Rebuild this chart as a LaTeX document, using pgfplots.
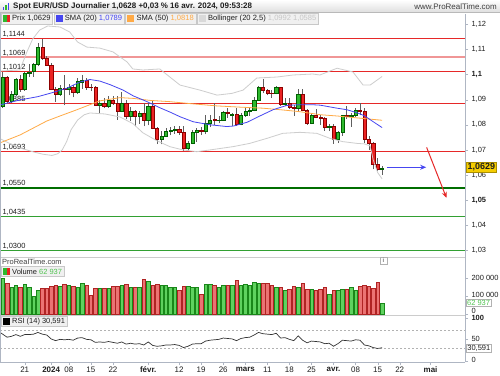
\documentclass[border=0pt]{standalone}
\usepackage{pgfplots}
\pgfplotsset{compat=1.18}
\usepackage{pgfplotstable}
\usepackage{fontspec}
\setmainfont{Liberation Sans}
\usetikzlibrary{arrows.meta}

\definecolor{lvred}{RGB}{230,40,40}
\definecolor{lvpink}{RGB}{240,150,150}
\definecolor{lvdgreen}{RGB}{0,110,0}
\definecolor{lvgreen}{RGB}{50,160,50}
\definecolor{smablue}{RGB}{70,70,240}
\definecolor{smaorange}{RGB}{255,170,70}
\definecolor{bbgray}{RGB}{205,205,205}
\definecolor{cgfill}{RGB}{45,185,45}
\definecolor{cgdraw}{RGB}{0,95,0}
\definecolor{crfill}{RGB}{235,35,35}
\definecolor{crdraw}{RGB}{140,0,0}
\definecolor{wickc}{RGB}{95,95,95}
\definecolor{vgfill}{RGB}{95,210,95}
\definecolor{vgdraw}{RGB}{25,135,25}
\definecolor{vrfill}{RGB}{235,115,115}
\definecolor{vrdraw}{RGB}{175,35,35}
\definecolor{axgray}{RGB}{175,182,195}
\definecolor{txt}{RGB}{30,30,30}
\definecolor{legfill}{RGB}{240,240,240}
\definecolor{legdraw}{RGB}{200,200,200}
\definecolor{pryellow}{RGB}{245,205,0}
\definecolor{volgreen}{RGB}{80,195,80}

\pgfplotstableread{
j o h l c v
-15 1.0873 1.1009 1.0866 1.0990 197
-14 1.0990 1.0995 1.0885 1.0895 169
-13 1.0894 1.0936 1.0887 1.0922 150
-12 1.0922 1.0988 1.0916 1.0981 157
-11 1.0981 1.1000 1.0932 1.0940 150
-10 1.0940 1.1010 1.0935 1.1005 163
-9 1.1005 1.1040 1.0990 1.1010 150
-8 1.1012 1.1046 1.0992 1.1042 100
-7 1.1042 1.1127 1.1032 1.1108 129
-6 1.1108 1.1140 1.1057 1.1065 142
-5 1.1065 1.1072 1.1033 1.1038 140
-4 1.1038 1.1046 1.0938 1.0942 151
-3 1.0942 1.0952 1.0892 1.0922 161
-2 1.0922 1.0958 1.0915 1.0946 151
-1 1.0946 1.1000 1.0877 1.0941 163
0 1.0941 1.0964 1.0917 1.0950 159
1 1.0950 1.0960 1.0909 1.0930 151
2 1.0930 1.0985 1.0922 1.0973 146
3 1.0970 1.0999 1.0942 1.0976 172
4 1.0976 1.0988 1.0939 1.0951 157
5 1.0951 1.0964 1.0934 1.0948 102
6 1.0948 1.0955 1.0876 1.0877 142
7 1.0877 1.0898 1.0844 1.0884 142
8 1.0884 1.0905 1.0866 1.0874 140
9 1.0874 1.0915 1.0868 1.0897 140
10 1.0897 1.0914 1.0878 1.0885 151
11 1.0885 1.0915 1.0820 1.0855 151
12 1.0855 1.0932 1.0849 1.0884 159
13 1.0884 1.0898 1.0822 1.0836 163
14 1.0836 1.0872 1.0817 1.0854 146
15 1.0854 1.0857 1.0795 1.0834 146
16 1.0834 1.0855 1.0805 1.0845 150
17 1.0845 1.0887 1.0794 1.0818 190
18 1.0818 1.0888 1.0798 1.0873 180
19 1.0873 1.0897 1.0782 1.0787 157
20 1.0787 1.0790 1.0723 1.0742 163
21 1.0742 1.0775 1.0722 1.0756 159
22 1.0756 1.0786 1.0755 1.0774 159
23 1.0774 1.0793 1.0758 1.0778 150
24 1.0778 1.0796 1.0765 1.0784 146
25 1.0784 1.0795 1.0761 1.0771 134
26 1.0771 1.0794 1.0696 1.0708 151
27 1.0708 1.0737 1.0695 1.0727 151
28 1.0727 1.0781 1.0723 1.0772 150
29 1.0772 1.0789 1.0733 1.0777 150
30 1.0777 1.0790 1.0761 1.0775 111
31 1.0775 1.0838 1.0762 1.0808 167
32 1.0808 1.0839 1.0791 1.0820 167
33 1.0822 1.0888 1.0801 1.0818 159
34 1.0818 1.0836 1.0806 1.0820 146
35 1.0820 1.0855 1.0817 1.0851 157
36 1.0851 1.0865 1.0827 1.0845 157
37 1.0838 1.0847 1.0796 1.0841 159
38 1.0841 1.0868 1.0796 1.0804 186
39 1.0804 1.0845 1.0798 1.0838 159
40 1.0838 1.0868 1.0832 1.0855 167
41 1.0855 1.0872 1.0836 1.0857 159
42 1.0857 1.0912 1.0853 1.0898 178
43 1.0898 1.0956 1.0895 1.0948 172
44 1.0948 1.0981 1.0925 1.0938 172
45 1.0938 1.0943 1.0917 1.0927 169
46 1.0927 1.0939 1.0908 1.0924 159
47 1.0924 1.0955 1.0921 1.0948 150
48 1.0948 1.0951 1.0875 1.0880 146
49 1.0880 1.0906 1.0873 1.0886 130
50 1.0886 1.0906 1.0862 1.0868 138
51 1.0868 1.0878 1.0836 1.0865 155
52 1.0865 1.0942 1.0850 1.0922 150
53 1.0922 1.0942 1.0853 1.0858 169
54 1.0858 1.0864 1.0801 1.0808 138
55 1.0808 1.0841 1.0803 1.0839 138
56 1.0839 1.0861 1.0825 1.0831 132
57 1.0831 1.0838 1.0801 1.0828 138
58 1.0828 1.0832 1.0777 1.0790 150
59 1.0790 1.0802 1.0775 1.0793 110
60 1.0793 1.0803 1.0724 1.0742 130
61 1.0742 1.0775 1.0727 1.0770 132
62 1.0770 1.0838 1.0756 1.0837 138
63 1.0837 1.0876 1.0822 1.0836 138
64 1.0836 1.0848 1.0792 1.0839 150
65 1.0839 1.0868 1.0832 1.0859 132
66 1.0859 1.0885 1.0838 1.0856 153
67 1.0856 1.0867 1.0728 1.0743 157
68 1.0743 1.0757 1.0699 1.0727 153
69 1.0727 1.0730 1.0623 1.0645 142
70 1.0645 1.0669 1.0618 1.0625 178
71 1.0625 1.0636 1.0601 1.0629 63
}\candles

\pgfplotstableread{
j v
-15.6 1.0879
-11 1.0899
-7 1.0912
-4.3 1.0925
-0.5 1.0945
2.5 1.0970
4.8 1.0980
7 1.0974
9.3 1.0960
12.3 1.0938
14.6 1.0915
17.6 1.0893
20.6 1.0868
23 1.0850
25.2 1.0832
28.2 1.0812
32 1.0800
35.8 1.0793
37.3 1.0795
40.4 1.0810
43.3 1.0835
46.3 1.0860
49.4 1.0877
52.4 1.0880
55 1.0880
57 1.0878
60.8 1.0866
63 1.0860
65.3 1.0848
67 1.0836
69 1.0812
71 1.0789
}\smatwenty

\pgfplotstableread{
j v
-15.6 1.0728
-11 1.0760
-5 1.0815
-2 1.0835
1.7 1.0859
7 1.0895
11.6 1.0908
14.6 1.0905
18.4 1.0897
22.9 1.0892
27 1.0885
33.6 1.0875
39 1.0870
44 1.0866
48.5 1.0859
52.4 1.0852
57 1.0840
60.8 1.0835
65 1.0828
71 1.0818
}\smafifty

\pgfplotstableread{
j v
-15.6 1.1014
-11.1 1.1018
-9.5 1.1090
-8.2 1.1141
-6.6 1.1177
-4.8 1.1193
-2.0 1.1189
0.2 1.1169
2.0 1.1129
4.1 1.1109
7.0 1.1105
10.0 1.1090
13.2 1.1050
14.5 1.1022
16.8 1.1018
20.6 1.1022
25.2 1.0958
29.7 1.0938
33.6 1.0918
37 1.0925
39.5 1.0938
42.6 1.0986
47.2 1.0990
50.8 1.0998
55.3 1.1002
56.9 1.0998
60.8 1.1025
64.4 1.1010
66.7 1.0958
68.3 1.0958
71 1.0992
}\bbup

\pgfplotstableread{
j v
-15.6 1.0745
-13 1.0722
-11.1 1.0708
-8 1.0692
-5.9 1.0683
-3.8 1.0678
-2.5 1.0685
-1.5 1.0700
-0.5 1.0733
0.5 1.0780
2.0 1.0819
3.5 1.0840
4.8 1.0847
8.2 1.0843
11.6 1.0831
14.5 1.0805
16.8 1.0768
19.8 1.0738
22.9 1.0713
25.9 1.0700
29 1.0693
32 1.0700
37.2 1.0713
41 1.0726
44.9 1.0746
48.5 1.0766
52.4 1.0770
56.2 1.0766
59.2 1.0746
62.1 1.0733
65.3 1.0726
67 1.0724
68.3 1.0716
69 1.0660
70 1.0610
71 1.0585
}\bblow

\pgfplotstableread{
j v
-15.6 66
-15 62
-14 55
-13 57
-12 61
-11 57
-10 61
-9 61
-8 62
-7 66
-6 62
-5 60
-4 51
-3 47
-2 50
-1 49
0 50
1 48
2 53
3 54
4 50
5 49
6 43
7 44
8 43
9 45
10 43
11 41
12 44
13 39
14 41
15 39
16 40
17 37
18 44
19 36
20 34
21 35
22 37
23 37
24 38
25 36
26 31
27 34
28 39
29 40
30 40
31 46
32 48
33 49
34 50
35 53
36 52
37 51
38 47
39 52
40 54
41 55
42 60
43 66
44 63
45 62
46 61
47 64
48 53
49 54
50 50
51 47
52 58
53 48
54 42
55 46
56 45
57 44
58 40
59 41
60 34
61 40
62 48
63 47
64 46
65 49
66 48
67 37
68 35
69 31
70 29
71 30.591
}\rsi

\pgfplotsset{
  panel/.style={
    scale only axis, width=465bp,
    xmin=-15.6, xmax=89.8,
    axis y line*=right,
    axis line style={draw=axgray,-},
    tick align=outside, major tick length=3bp,
    tick style={draw=axgray},
    yticklabel style={font=\fontsize{7.5}{9}\selectfont, text=txt},
    no markers, clip=true,
  },
  wick/.style={draw=wickc, line width=0.6bp},
  upbody/.style={fill=cgfill, draw=cgdraw, line width=0.4bp},
  dnbody/.style={fill=crfill, draw=crdraw, line width=0.4bp},
  upvol/.style={fill=vgfill, draw=vgdraw, line width=0.4bp},
  dnvol/.style={fill=vrfill, draw=vrdraw, line width=0.4bp},
}
\tikzset{
  lvlabel/.style={anchor=south west, inner sep=0.6bp, font=\fontsize{7.5}{9}\selectfont, text=txt},
  legbox/.style={draw=legdraw, fill=legfill, inner xsep=2bp, inner ysep=0pt, minimum height=10.5bp, font=\fontsize{7.6}{9}\selectfont, text=txt, anchor=west},
  plegbox/.style={draw=legdraw, fill=legfill, inner xsep=2bp, inner ysep=0pt, minimum height=10bp, font=\fontsize{7.5}{9}\selectfont, text=txt, anchor=west},
}

\begin{document}
\begin{tikzpicture}[x=1bp,y=1bp]
\useasboundingbox (0,0) rectangle (500,375);
\fill[white] (0,0) rectangle (500,375);

% ---------------- price panel
\begin{axis}[panel, axis x line=none,
  at={(0bp,118bp)}, anchor=south west, height=243bp,
  ymin=1.02741, ymax=1.12407,
  ytick={1.03,1.04,1.05,1.06,1.07,1.08,1.09,1.1,1.11,1.12},
  yticklabels={{1,03},{1,04},{\textbf{1,05}},{1,06},{1,07},{1,08},{1,09},{\textbf{1,1}},{1,11},{1,12}},
]
\addplot[lvred, line width=0.9bp] coordinates {(-15.6,1.1144) (89.8,1.1144)};
\addplot[lvpink, line width=1.4bp] coordinates {(-15.6,1.1069) (89.8,1.1069)};
\addplot[lvred, line width=0.9bp] coordinates {(-15.6,1.1012) (89.8,1.1012)};
\addplot[lvred, line width=0.9bp] coordinates {(-15.6,1.0885) (89.8,1.0885)};
\addplot[lvred, line width=0.9bp] coordinates {(-15.6,1.0693) (89.8,1.0693)};
\addplot[lvdgreen, line width=2bp] coordinates {(-15.6,1.0550) (89.8,1.0550)};
\addplot[lvgreen, line width=0.9bp] coordinates {(-15.6,1.0435) (89.8,1.0435)};
\addplot[lvgreen, line width=0.9bp] coordinates {(-15.6,1.0300) (89.8,1.0300)};
\node[lvlabel] at (axis cs:-15.2,1.1144) {1,1144};
\node[lvlabel] at (axis cs:-15.2,1.1069) {1,1069};
\node[lvlabel] at (axis cs:-15.2,1.1012) {1,1012};
\node[lvlabel] at (axis cs:-15.2,1.0885) {1,0885};
\node[lvlabel] at (axis cs:-15.2,1.0693) {1,0693};
\node[lvlabel] at (axis cs:-15.2,1.0553) {1,0550};
\node[lvlabel] at (axis cs:-15.2,1.0435) {1,0435};
\node[lvlabel] at (axis cs:-15.2,1.0300) {1,0300};

\pgfplotsinvokeforeach{0,...,86}{
  \pgfplotstablegetelem{#1}{j}\of\candles\let\Cj\pgfplotsretval
  \pgfplotstablegetelem{#1}{o}\of\candles\let\Co\pgfplotsretval
  \pgfplotstablegetelem{#1}{h}\of\candles\let\Ch\pgfplotsretval
  \pgfplotstablegetelem{#1}{l}\of\candles\let\Cl\pgfplotsretval
  \pgfplotstablegetelem{#1}{c}\of\candles\let\Cc\pgfplotsretval
  \pgfmathsetmacro\Xa{\Cj-0.36}
  \pgfmathsetmacro\Xb{\Cj+0.36}
  \pgfmathtruncatemacro\Cup{\Cc>=\Co}
  \ifnum\Cup=1 \def\Bst{upbody}\else\def\Bst{dnbody}\fi
  \edef\Tmp{\noexpand\addplot[wick] coordinates {(\Cj,\Cl) (\Cj,\Ch)};
    \noexpand\addplot[\Bst] coordinates {(\Xa,\Co) (\Xb,\Co) (\Xb,\Cc) (\Xa,\Cc)} -- cycle;}
  \Tmp
}

\addplot[bbgray, line width=0.8bp] table[x=j,y=v] {\bbup};
\addplot[bbgray, line width=0.8bp] table[x=j,y=v] {\bblow};
\addplot[smaorange, line width=0.8bp] table[x=j,y=v] {\smafifty};
\addplot[smablue, line width=0.8bp] table[x=j,y=v] {\smatwenty};

\addplot[smablue, line width=1.1bp, -{Stealth[length=6bp,width=5bp]}] coordinates {(72.1,1.0631) (81,1.0631)};
\addplot[lvred, line width=1bp, -{Stealth[length=6bp,width=5bp]}] coordinates {(81.1,1.0710) (85.6,1.0509)};
\end{axis}

% ---------------- volume panel
\begin{axis}[panel, axis x line=none,
  at={(0bp,60bp)}, anchor=south west, height=58bp,
  ymin=-3.8, ymax=313,
  ytick={0,100,200},
  yticklabels={{\raisebox{6bp}{0}},{\raisebox{2.5bp}{100 000}},{200 000}},
]
\pgfplotsinvokeforeach{0,...,86}{
  \pgfplotstablegetelem{#1}{j}\of\candles\let\Cj\pgfplotsretval
  \pgfplotstablegetelem{#1}{o}\of\candles\let\Co\pgfplotsretval
  \pgfplotstablegetelem{#1}{c}\of\candles\let\Cc\pgfplotsretval
  \pgfplotstablegetelem{#1}{v}\of\candles\let\Cv\pgfplotsretval
  \pgfmathsetmacro\Xa{\Cj-0.4}
  \pgfmathsetmacro\Xb{\Cj+0.4}
  \pgfmathtruncatemacro\Cup{\Cc>=\Co}
  \ifnum\Cup=1 \def\Bst{upvol}\else\def\Bst{dnvol}\fi
  \edef\Tmp{\noexpand\addplot[\Bst] coordinates {(\Xa,0) (\Xb,0) (\Xb,\Cv) (\Xa,\Cv)} -- cycle;}
  \Tmp
}
\end{axis}

% ---------------- RSI panel
\begin{axis}[panel,
  at={(0bp,13bp)}, anchor=south west, height=47bp,
  ymin=-2.3, ymax=106.2,
  axis x line*=bottom,
  ytick={0,50,100},
  yticklabels={{\raisebox{3bp}{0}},50,{\raisebox{-3.5bp}{\textbf{100}}}},
  xtick={-10,-4,0,5,10,18,25,30,35,40,45,50,55,60,65,70,75,82},
  xticklabels={21,\textbf{2024},08,15,22,\textbf{févr.},12,19,26,\textbf{mars},11,18,25,\textbf{avr.},08,15,22,\textbf{mai}},
  xticklabel style={font=\fontsize{8}{9}\selectfont, text=txt, yshift=1.5bp},
  x tick style={draw=axgray},
]
\addplot[gray!60, dash pattern=on 2bp off 2bp, line width=0.6bp] coordinates {(-15.6,70) (89.8,70)};
\addplot[gray!60, dash pattern=on 2bp off 2bp, line width=0.6bp] coordinates {(-15.6,30) (89.8,30)};
\addplot[black!80, line width=0.7bp] table[x=j,y=v] {\rsi};
\end{axis}

% ---------------- frame and separators
\draw[gray!40, line width=0.6bp] (0,118) -- (465,118);
\draw[gray!40, line width=0.6bp] (0,60) -- (465,60);
\draw[axgray, line width=0.8bp] (0.4,13) -- (0.4,362);
\draw[axgray, line width=0.6bp] (0,13) -- (465,13);

% ---------------- header
\shade[top color=white, bottom color=gray!25] (0,363) rectangle (500,375);
\draw[gray!55, line width=0.5bp] (0,362.8) -- (500,362.8);
\fill[smablue] (3,365) rectangle (4.3,368);
\fill[cgfill] (5.3,365) rectangle (6.6,370);
\fill[smablue] (7.6,365) rectangle (8.9,372);
\node[anchor=west, inner sep=0, font=\fontsize{8}{9}\selectfont\bfseries, text=txt] at (13,368.5) {Spot EUR/USD Journalier 1,0628 +0,03 \% 16 avr. 2024, 09:53:28};
\node[anchor=east, inner sep=0, font=\fontsize{8}{9}\selectfont, text=txt!85] at (497,368.5) {www.ProRealTime.com};

% ---------------- legend row
\node (b1) [legbox] at (1,356.3) {\hspace{9bp}Prix 1,0629};
\path (b1.west) ++(2,-3.5) coordinate (i1);
\fill[cgfill] (i1) rectangle ++(3.5,7);
\fill[crfill] ([xshift=3.5bp]i1) rectangle ++(3.5,7);
\node (b2) [legbox] at ([xshift=1bp]b1.east) {\hspace{9bp}SMA (20) \textcolor{smablue}{1,0789}};
\path (b2.west) ++(2,-3.5) coordinate (i2);
\fill[smablue] (i2) rectangle ++(7,7);
\node (b3) [legbox] at ([xshift=1bp]b2.east) {\hspace{9bp}SMA (50) \textcolor{smaorange}{1,0818}};
\path (b3.west) ++(2,-3.5) coordinate (i3);
\fill[smaorange] (i3) rectangle ++(7,7);
\node (b4) [legbox] at ([xshift=1bp]b3.east) {\hspace{9bp}Bollinger (20 2,5) \textcolor{gray!45}{1,0992 1,0585}};
\path (b4.west) ++(2,-3.5) coordinate (i4);
\fill[gray!30] (i4) rectangle ++(7,7);

% ---------------- panel legends and texts
\node[anchor=west, inner sep=0, font=\fontsize{7.5}{9}\selectfont, text=txt!85] at (2,113.5) {ProRealTime.com};
\node[draw=gray!60, fill=white, font=\fontsize{6}{6}\selectfont\bfseries, text=gray, inner sep=0.5bp, minimum size=7bp] at (383.5,114.5) {i};
\node (v1) [plegbox] at (1,103.5) {\hspace{9bp}Volume \textcolor{volgreen}{62 937}};
\path (v1.west) ++(2,-3.5) coordinate (iv);
\fill[cgfill] (iv) rectangle ++(3.5,7);
\fill[crfill] ([xshift=3.5bp]iv) rectangle ++(3.5,7);
\node (r1) [plegbox] at (1,53.5) {\hspace{9bp}RSI (14) 30,591};
\path (r1.west) ++(2,-3.5) coordinate (ir);
\fill[black] (ir) rectangle ++(7,7);

% ---------------- right value boxes
\node[anchor=west, fill=pryellow, draw=pryellow!70!black, font=\fontsize{9}{10}\selectfont\bfseries, text=txt, inner xsep=1.5bp, inner ysep=1.5bp] at (466,207.8) {1,0629};
\node[anchor=west, fill=white, draw=gray!60, font=\fontsize{7.5}{9}\selectfont, text=volgreen, inner sep=1bp] at (466,72.5) {62 937};
\node[anchor=west, fill=white, draw=gray!60, font=\fontsize{7.5}{9}\selectfont, text=txt, inner sep=1.2bp] at (466,27) {30,591};
\end{tikzpicture}
\end{document}
